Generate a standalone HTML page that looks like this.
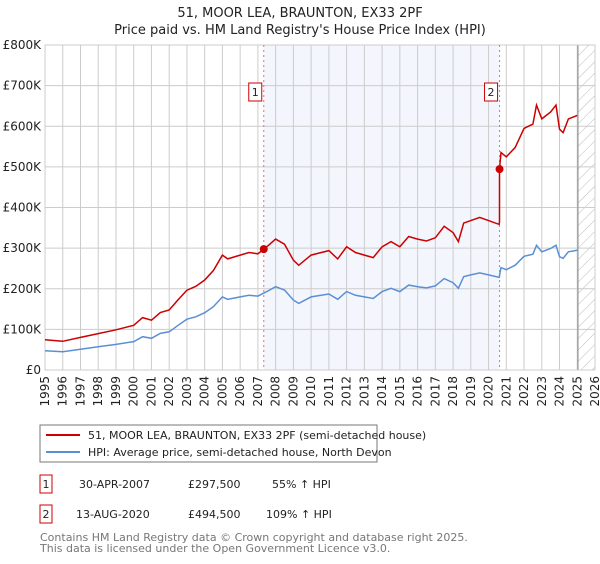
<!DOCTYPE html>
<html><head><meta charset="utf-8"><style>
body{margin:0;background:#fff;font-family:"DejaVu Sans","Liberation Sans",sans-serif;}
svg text{font-family:"DejaVu Sans","Liberation Sans",sans-serif;}
</style></head><body>
<svg id="chart" width="600" height="560" viewBox="0 0 600 560" xmlns="http://www.w3.org/2000/svg">
<defs><pattern id="hatch" patternUnits="userSpaceOnUse" width="8" height="8" patternTransform="rotate(45)"><line x1="0" y1="0" x2="0" y2="8" stroke="#bbb" stroke-width="1"/></pattern></defs>
<text x="300" y="17" text-anchor="middle" font-size="13" fill="#222">51, MOOR LEA, BRAUNTON, EX33 2PF</text>
<text x="300" y="34" text-anchor="middle" font-size="13" fill="#222">Price paid vs. HM Land Registry's House Price Index (HPI)</text>
<g id="plot"></g>
<g>
<rect x="40" y="425" width="337" height="37" fill="#fff" stroke="#777"/>
<line x1="46" y1="435" x2="80" y2="435" stroke="#cc0000" stroke-width="2"/>
<text x="88" y="439" font-size="11" fill="#222">51, MOOR LEA, BRAUNTON, EX33 2PF (semi-detached house)</text>
<line x1="46" y1="452" x2="80" y2="452" stroke="#5b8fd4" stroke-width="2"/>
<text x="88" y="456" font-size="11" fill="#222">HPI: Average price, semi-detached house, North Devon</text>
</g>
<g font-size="11" fill="#222">
<rect x="40" y="475" width="12" height="18" fill="#fff" stroke="#cc0000"/>
<text x="46" y="488" text-anchor="middle">1</text>
<text x="79" y="488">30-APR-2007</text>
<text x="188" y="488">£297,500</text>
<text x="272" y="488">55% ↑ HPI</text>
<rect x="40" y="505" width="12" height="18" fill="#fff" stroke="#cc0000"/>
<text x="46" y="518" text-anchor="middle">2</text>
<text x="76" y="518">13-AUG-2020</text>
<text x="188" y="518">£494,500</text>
<text x="266" y="518">109% ↑ HPI</text>
</g>
<text x="40" y="541" font-size="11" fill="#777">Contains HM Land Registry data © Crown copyright and database right 2025.</text>
<text x="40" y="552" font-size="11" fill="#777">This data is licensed under the Open Government Licence v3.0.</text>
</svg>
<script>
const hpiYears=[1995,1996,1997,1998,1999,2000,2000.5,2001,2001.5,2002,2002.5,2003,2003.5,2004,2004.5,2005,2005.3,2006,2006.5,2007,2007.5,2008,2008.5,2009,2009.3,2010,2011,2011.5,2012,2012.5,2013,2013.5,2014,2014.5,2015,2015.5,2016,2016.5,2017,2017.5,2018,2018.3,2018.6,2019,2019.5,2020,2020.6,2020.7,2021,2021.5,2022,2022.5,2022.7,2023,2023.5,2023.8,2024,2024.2,2024.5,2025];
const hpiValues=[47.5,45,51,57,63,70,82,78,90,94,110,125,131,141,156,180,174,180,184,182,193,205,197,172,164,180,187,174,193,184,180,176,193,201,193,209,205,202,207,225,215,201,230,234,239,234,228,252,247,258,280,285,307,291,299,307,279,275,291,295];
const saleDates=[2007.33,2020.62];
const salePrices=[297.5,494.5];
const saleLabels=["1","2"];
const yTicks=[0,100,200,300,400,500,600,700,800];
const yTickLabels=["£0","£100K","£200K","£300K","£400K","£500K","£600K","£700K","£800K"];
const xMin=1995,xMax=2026,yMax=800;
const L=45,R=595,T=45,B=370;
const sx=v=>L+(v-xMin)/(xMax-xMin)*(R-L);
const sy=v=>B-v/yMax*(B-T);
const NS="http://www.w3.org/2000/svg";
const g=document.getElementById('plot');
function mk(t,a){const e=document.createElementNS(NS,t);for(const k in a)e.setAttribute(k,a[k]);g.appendChild(e);return e;}
function hpiAt(t){for(let i=1;i<hpiYears.length;i++){if(t<=hpiYears[i]){const f=(t-hpiYears[i-1])/(hpiYears[i]-hpiYears[i-1]);return hpiValues[i-1]+f*(hpiValues[i]-hpiValues[i-1]);}}return hpiValues[hpiValues.length-1];}
let e;
e=mk('rect',{x:sx(saleDates[0]),y:T,width:sx(saleDates[1])-sx(saleDates[0]),height:B-T,fill:'#f3f6fd'});


e=mk('rect',{x:sx(2025.04),y:T,width:R-sx(2025.04),height:B-T,fill:'url(#hatch)'});


for(let y=1995;y<=2026;y++){
 e=mk('line',{x1:sx(y),x2:sx(y),y1:T,y2:B,stroke:'#cccccc','stroke-width':1});
 
 
 const tx=sx(y)+4,ty=B+6;
 e=mk('text',{x:tx,y:ty,transform:`rotate(-90 ${tx} ${ty})`,'text-anchor':'end','font-size':12,fill:'#222'});
 e.textContent=y;
 
 
}
yTicks.forEach((v,i)=>{
 e=mk('line',{x1:L,x2:R,y1:sy(v),y2:sy(v),stroke:'#cccccc','stroke-width':1});
 
 
 e=mk('text',{x:L-4,y:sy(v)+4,'text-anchor':'end','font-size':12,fill:'#222'});
 e.textContent=yTickLabels[i];
 
 
});
e=mk('line',{x1:sx(2025.04),x2:sx(2025.04),y1:T,y2:B,stroke:'#888','stroke-width':1});


e=mk('rect',{x:L,y:T,width:R-L,height:B-T,fill:'none',stroke:'#cccccc'});


saleDates.forEach(d=>{
 e=mk('line',{x1:sx(d),x2:sx(d),y1:T,y2:B,stroke:'#ff6666','stroke-width':1,'stroke-dasharray':'2,3'});
 
 
});
// HPI line
let hp=hpiYears.map((t,i)=>`${sx(t).toFixed(1)},${sy(hpiValues[i]).toFixed(1)}`).join(' ');
e=mk('polyline',{points:hp,fill:'none',stroke:'#5b8fd4','stroke-width':1.5});


// price paid line: HPI scaled by sale ratio
const f1=salePrices[0]/hpiAt(saleDates[0]),f2=salePrices[1]/hpiAt(saleDates[1]);
const pts=[];
hpiYears.forEach((t,i)=>{if(t<saleDates[1])pts.push([t,hpiValues[i]*f1]);});
pts.push([saleDates[1],hpiAt(saleDates[1])*f1]);
pts.push([saleDates[1],salePrices[1]]);
hpiYears.forEach((t,i)=>{if(t>saleDates[1])pts.push([t,hpiValues[i]*f2]);});
e=mk('polyline',{points:pts.map(p=>`${sx(p[0]).toFixed(1)},${sy(p[1]).toFixed(1)}`).join(' '),fill:'none',stroke:'#cc0000','stroke-width':1.5});


saleDates.forEach((d,i)=>{
 e=mk('circle',{cx:sx(d),cy:sy(salePrices[i]),r:4,fill:'#cc0000'});
 
 
 e=mk('rect',{x:sx(d)-15,y:83,width:13,height:18,fill:'#fff',stroke:'#cc0000'});
 
 
 e=mk('text',{x:sx(d)-8.5,y:96,'text-anchor':'middle','font-size':11,fill:'#222'});
 e.textContent=saleLabels[i];
 
 
});
</script>
</body></html>
